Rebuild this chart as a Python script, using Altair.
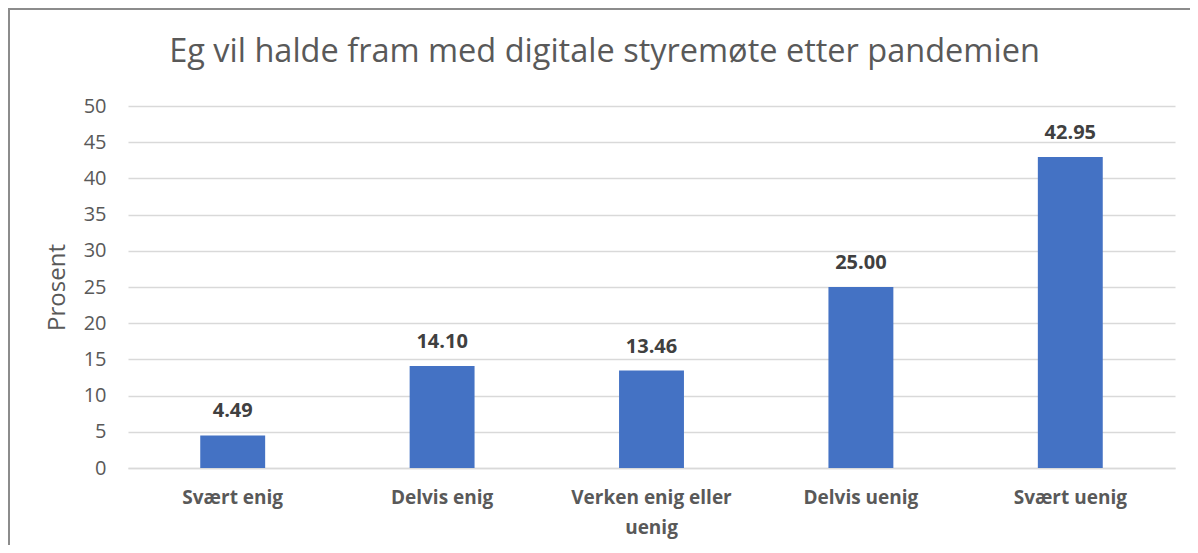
import altair as alt
import pandas as pd

categories = ["Svært enig", "Delvis enig", "Verken enig eller uenig", "Delvis uenig", "Svært uenig"]
values = [4.49, 14.10, 13.46, 25.00, 42.95]
labels = ["4.49", "14.10", "13.46", "25.00", "42.95"]
y_ticks = [0, 5, 10, 15, 20, 25, 30, 35, 40, 45, 50]

df = pd.DataFrame({"kategori": categories, "prosent": values, "etikett": labels})

FONT = "Open Sans"
W, H = 1047, 362

x = alt.X(
    "kategori:N",
    sort=categories,
    title=None,
    scale=alt.Scale(paddingInner=0.69, paddingOuter=0.345),
    axis=alt.Axis(
        labelAngle=0,
        labelFontWeight="bold",
        labelFontSize=19,
        labelPadding=20,
        labelLineHeight=30,
        ticks=False,
        domain=True,
        domainColor="#D9D9D9",
        domainWidth=1.5,
        grid=False,
        labelExpr="datum.value == 'Verken enig eller uenig' ? ['Verken enig eller', 'uenig'] : datum.value",
    ),
)

y = alt.Y(
    "prosent:Q",
    title="Prosent",
    scale=alt.Scale(domain=[0, 50]),
    axis=alt.Axis(
        values=y_ticks,
        labelOverlap=False,
        labelFontSize=20,
        labelPadding=22,
        titleFontSize=24,
        titlePadding=14,
        ticks=False,
        domain=False,
        gridColor="#D9D9D9",
        gridWidth=1.5,
    ),
)

base = alt.Chart(df).encode(x=x, y=y)

bars = base.mark_bar(color="#4472C4")

text = base.mark_text(
    font=FONT, fontSize=20, fontWeight="bold", color="#404040", baseline="bottom", dy=-14
).encode(text="etikett:N")

frame = alt.Chart(df).mark_rect(fill=None, stroke="#8C8C8C", strokeWidth=2).encode(
    x=alt.value(-119), x2=alt.value(W + 80), y=alt.value(-97), y2=alt.value(H + 140)
)

chart = (
    alt.layer(frame, bars, text)
    .properties(
        width=W,
        height=H,
        title=alt.TitleParams(
            "Eg vil halde fram med digitale styremøte etter pandemien",
            font=FONT,
            fontSize=32.5,
            fontWeight="normal",
            color="#595959",
            anchor="middle",
            frame="group",
            offset=0,
            dy=60,
            dx=-47,
        ),
        padding={"left": 120, "top": 98, "right": 15, "bottom": 77},
        autosize=alt.AutoSizeParams(type="none"),
    )
    .configure_view(stroke=None)
    .configure_axis(
        labelFont=FONT,
        labelColor="#595959",
        titleFont=FONT,
        titleFontWeight="normal",
        titleColor="#595959",
    )
)

chart.save("out.html", embed_options={"renderer": "svg", "actions": False})
